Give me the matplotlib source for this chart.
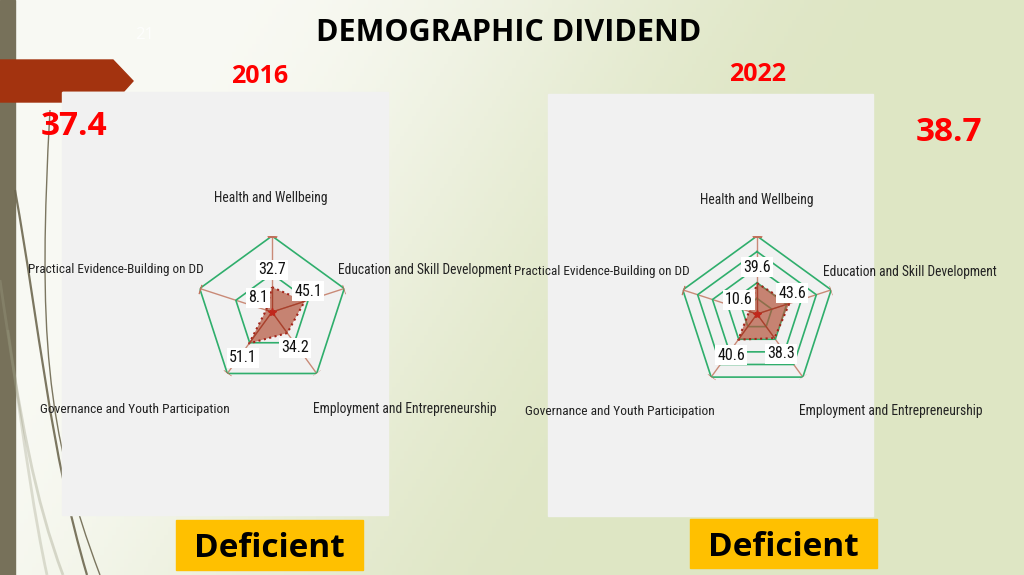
import numpy as np
import matplotlib
matplotlib.use("Agg")
import matplotlib.pyplot as plt
from matplotlib import font_manager as fm
from matplotlib.patches import Rectangle, Polygon, PathPatch
from matplotlib.path import Path

# ---------------- data ----------------
title = "DEMOGRAPHIC DIVIDEND"
categories = ["Health and Wellbeing", "Education and Skill Development",
              "Employment and Entrepreneurship", "Governance and Youth Participation",
              "Practical Evidence-Building on DD"]
years = ["2016", "2022"]
values_2016 = [32.7, 45.1, 34.2, 51.1, 8.1]
values_2022 = [39.6, 43.6, 38.3, 40.6, 10.6]
overall = ["37.4", "38.7"]
rating = ["Deficient", "Deficient"]
rings_2016 = [50, 100]
rings_2022 = [20, 40, 60, 80, 100]
slide_number = "21"

W, H = 1024, 575
fig = plt.figure(figsize=(W / 100, H / 100), dpi=100)
renderer = fig.canvas.get_renderer()

installed = {f.name for f in fm.fontManager.ttflist}
narrow_name = next((n for n in ["Liberation Sans Narrow", "Arial Narrow",
                                "Roboto Condensed", "Open Sans Condensed",
                                "Roboto"] if n in installed), "DejaVu Sans")
NARROW = [narrow_name, "DejaVu Sans"]
BOLD = ["Open Sans", "DejaVu Sans"]

# ---------------- background ----------------
bg = fig.add_axes([0, 0, 1, 1])
bg.set_xlim(0, W)
bg.set_ylim(H, 0)
bg.axis("off")
xs = np.linspace(0, W, 256)
ys = np.linspace(0, H, 144)
xx, yy = np.meshgrid(xs, ys)
t = np.clip((xx - 220) / 680 + 0.5 * yy / H, 0, 1)
t = t * t * (3 - 2 * t)
c0 = np.array([0.975, 0.978, 0.955])
c1 = np.array([0.873, 0.902, 0.772])
img = c0[None, None, :] * (1 - t[..., None]) + c1[None, None, :] * t[..., None]
bg.imshow(img, extent=[0, W, H, 0], aspect="auto", zorder=0)

# left strip
bg.add_patch(Rectangle((0, 0), 15, H, color="#77715a", zorder=1))
# decorative curves
curves = [
    ([(50, 110), (38, 330), (45, 430), (100, 575)], "#6e6850", 1.0, 0.9),
    ([(15, 190), (40, 330), (50, 450), (87, 575)], "#6e6850", 1.6, 0.9),
    ([(0, 280), (20, 420), (35, 500), (63, 575)], "#9a9a80", 2.0, 0.35),
    ([(8, 330), (25, 450), (35, 520), (47, 575)], "#9a9a80", 2.0, 0.3),
]
for pts, col, lw, al in curves:
    p = Path(pts, [Path.MOVETO, Path.CURVE4, Path.CURVE4, Path.CURVE4])
    bg.add_patch(PathPatch(p, fill=False, edgecolor=col, lw=lw, alpha=al, zorder=1))

# banner
banner = [(0, 60), (113, 60), (133, 81), (124, 91), (62, 91), (62, 102), (0, 102)]
bg.add_patch(Polygon(banner, closed=True, color="#a3330f", zorder=2))

# panels
bg.add_patch(Rectangle((62, 92), 326, 423, color="#f1f1f1", zorder=2))
bg.add_patch(Rectangle((548, 94), 325, 422, color="#f1f1f1", zorder=2))

# yellow boxes
bg.add_patch(Rectangle((176, 520), 187, 50, color="#ffc000", zorder=2))
bg.add_patch(Rectangle((690, 519), 187, 49, color="#ffc000", zorder=2))

# ---------------- radar charts ----------------
angles_deg = np.arange(5) * 72.0
angles = np.deg2rad(angles_deg)


def radar(cx, cy, R, values, rings):
    ax = fig.add_axes([(cx - R) / W, (H - cy - R) / H, 2 * R / W, 2 * R / H],
                      projection="polar")
    ax.set_theta_zero_location("N")
    ax.set_theta_direction(-1)
    ax.set_ylim(0, 100)
    ax.set_facecolor("none")
    ax.grid(False)
    ax.set_xticks([])
    ax.set_yticks([])
    ax.spines["polar"].set_visible(False)
    ang_c = np.append(angles, angles[0])
    for r in rings:
        ax.plot(ang_c, [r] * 6, color="#2fae6c", lw=1.2, zorder=2)
    for a, d in zip(angles, angles_deg):
        ax.plot([a, a], [0, 100], color="#c98a77", lw=1.0, zorder=1)
        ax.plot([a], [100], marker=(2, 0, 90 - d), ms=7, color="#c0705a",
                mew=1.0, zorder=3)
    v = np.append(values, values[0])
    ax.fill(ang_c, v, facecolor="#b4553d", alpha=0.7, zorder=3)
    ax.plot(ang_c, v, color="#a3241a", lw=1.5, ls=":", zorder=4)
    for a, val in zip(angles, values):
        ax.plot([a, a], [0, val], color="#a8402c", lw=0.9, zorder=4)
    ax.plot([0], [0], marker="*", color="#c0281c", ms=6, zorder=5)
    return ax


radar(272, 312, 76, values_2016, rings_2016)
radar(757, 314, 78, values_2022, rings_2022)

# ---------------- overlay text ----------------
ov = fig.add_axes([0, 0, 1, 1], zorder=10)
ov.set_xlim(0, W)
ov.set_ylim(H, 0)
ov.axis("off")
ov.patch.set_alpha(0)


def fit_text(x, y, s, width_px, base=10.0, **kw):
    txt = ov.text(x, y, s, fontsize=base, ha="center", va="center", **kw)
    wpx = txt.get_window_extent(renderer=renderer).width
    if wpx > 0:
        txt.set_fontsize(base * width_px / wpx)
    return txt


ov.text(509, 41, title, family=BOLD, weight="bold", fontsize=22,
        color="black", ha="center", va="baseline")
ov.text(145, 39, slide_number, family=BOLD, fontsize=12, color="white",
        alpha=0.8, ha="center", va="baseline")
ov.text(260, 83, years[0], family=BOLD, weight="bold", fontsize=18,
        color="#ff0000", ha="center", va="baseline")
ov.text(758, 81, years[1], family=BOLD, weight="bold", fontsize=18,
        color="#ff0000", ha="center", va="baseline")
ov.text(74, 135, overall[0], family=BOLD, weight="bold", fontsize=24,
        color="#ff0000", ha="center", va="baseline")
ov.text(949, 141, overall[1], family=BOLD, weight="bold", fontsize=24,
        color="#ff0000", ha="center", va="baseline")
ov.text(269.5, 557, rating[0], family=BOLD, weight="bold", fontsize=24,
        color="black", ha="center", va="baseline")
ov.text(783.5, 556, rating[1], family=BOLD, weight="bold", fontsize=24,
        color="black", ha="center", va="baseline")

# label centres (x, y) and widths in pixels
cat_pos_2016 = [(271, 198), (425, 270), (405, 409), (135, 409), (116, 270)]
cat_pos_2022 = [(757, 200), (910, 272), (891, 411), (620, 411), (602, 272)]
cat_width = [113, 174, 184, 189, 175]
for pos_list in (cat_pos_2016, cat_pos_2022):
    for name, (x, y), wd in zip(categories, pos_list, cat_width):
        fit_text(x, y, name, wd, family=NARROW, color="#222222")

val_pos_2016 = [(272, 270), (308, 291), (295, 348), (243, 358), (258, 298)]
val_pos_2022 = [(757, 267), (792, 293), (781, 354), (731, 355), (739, 300)]
for vals, pos_list in ((values_2016, val_pos_2016), (values_2022, val_pos_2022)):
    for val, (x, y) in zip(vals, pos_list):
        ov.text(x, y, f"{val:.1f}", family=NARROW, fontsize=11.5, color="#111111",
                ha="center", va="center",
                bbox=dict(boxstyle="square,pad=0.15", facecolor="white",
                          edgecolor="none"))

fig.savefig("out.png", dpi=100)
